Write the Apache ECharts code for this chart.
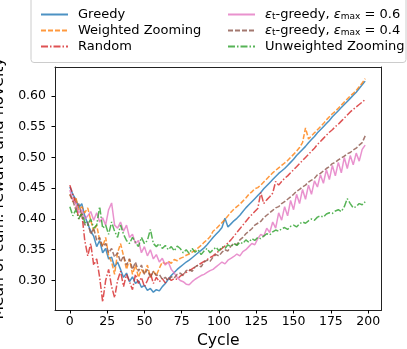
<!DOCTYPE html>
<html>
<head>
<meta charset="utf-8">
<script src="https://cdn.jsdelivr.net/npm/echarts@6/dist/echarts.min.js"></script>
<style>
html, body { margin: 0; padding: 0; background: #fff; }
#chart { width: 407px; height: 349px; }
</style>
</head>
<body>
<div id="chart"></div>
<script>
const cycles = [0, 2, 4, 6, 8, 10, 12, 14, 16, 18, 20, 22, 24, 26, 28, 30, 32, 34, 36, 38,
    40, 42, 44, 46, 48, 50, 52, 54, 56, 58, 60, 62, 64, 66, 68, 70, 72, 74, 76, 78,
    80, 82, 84, 86, 88, 90, 92, 94, 96, 98, 100, 102, 104, 106, 108, 110, 112, 114, 116, 118,
    120, 122, 124, 126, 128, 130, 132, 134, 136, 138, 140, 142, 144, 146, 148, 150, 152, 154, 156, 158,
    160, 162, 164, 166, 168, 170, 172, 174, 176, 178, 180, 182, 184, 186, 188, 190, 192, 194, 196, 198];

const greedy = [.452, .44, .432, .418, .425, .405, .392, .38, .372, .355, .365, .345, .352, .335, .338, .322, .33, .318, .305, .312,
    .298, .306, .295, .3, .289, .292, .284, .287, .281, .285, .283, .29, .295, .302, .308, .313, .318, .322, .326, .33,
    .333, .337, .341, .345, .349, .353, .358, .364, .37, .375, .38, .386, .401, .387, .392, .397, .401, .406, .412, .418,
    .423, .428, .433, .438, .443, .449, .454, .459, .464, .469, .474, .478, .482, .487, .492, .497, .503, .508, .513, .518,
    .524, .529, .534, .54, .545, .55, .555, .56, .566, .571, .576, .581, .586, .591, .596, .601, .606, .612, .618, .624];

const weightedZooming = [.44, .428, .435, .415, .42, .41, .418, .398, .38, .39, .365, .355, .37, .34, .33, .31, .345, .36, .34, .318,
    .335, .31, .325, .305, .318, .31, .325, .305, .315, .308, .32, .33, .327, .331, .328, .334, .332, .336, .338, .341,
    .343, .346, .349, .353, .357, .362, .366, .371, .38, .384, .389, .394, .399, .405, .411, .416, .42, .424, .429, .434,
    .44, .444, .449, .451, .455, .46, .465, .47, .475, .479, .483, .487, .491, .495, .5, .505, .51, .516, .524, .548,
    .53, .535, .54, .545, .55, .555, .561, .566, .571, .575, .58, .585, .59, .595, .6, .604, .609, .615, .621, .628];

const random = [.455, .44, .425, .4, .41, .365, .34, .36, .325, .335, .305, .265, .3, .318, .29, .272, .3, .315, .29, .31,
    .298, .285, .31, .295, .305, .29, .3, .312, .295, .305, .298, .303, .296, .305, .3, .303, .302, .307, .31, .313,
    .316, .319, .322, .325, .328, .331, .334, .337, .34, .344, .348, .352, .356, .361, .366, .372, .378, .384, .39, .396,
    .402, .407, .412, .417, .443, .425, .431, .436, .442, .461, .455, .461, .466, .47, .475, .48, .485, .49, .495, .5,
    .505, .51, .515, .521, .526, .531, .536, .541, .545, .55, .554, .559, .564, .569, .574, .578, .582, .586, .59, .594];

const epsGreedy06 = [.447, .43, .425, .41, .415, .4, .405, .412, .398, .41, .395, .402, .39, .415, .426, .39, .385, .395, .38, .39,
    .37, .375, .36, .365, .345, .355, .34, .35, .335, .342, .33, .336, .325, .33, .318, .312, .305, .3, .298, .294,
    .293, .298, .302, .305, .308, .31, .313, .316, .318, .322, .326, .33, .327, .333, .336, .339, .343, .34, .347, .35,
    .355, .36, .358, .368, .375, .372, .385, .378, .395, .385, .41, .398, .42, .405, .43, .415, .44, .425, .448, .432,
    .455, .44, .462, .452, .472, .458, .48, .464, .487, .47, .492, .475, .5, .482, .503, .488, .507, .494, .513, .52];

const epsGreedy04 = [.44, .43, .415, .425, .405, .39, .395, .375, .385, .365, .37, .355, .36, .345, .352, .338, .345, .33, .34, .325,
    .335, .318, .33, .315, .325, .31, .318, .305, .315, .308, .31, .302, .305, .3, .306, .304, .31, .312, .308, .316,
    .318, .315, .322, .325, .322, .33, .333, .331, .338, .342, .34, .346, .35, .348, .356, .36, .358, .366, .37, .376,
    .38, .384, .39, .393, .396, .402, .406, .41, .414, .418, .42, .425, .428, .432, .436, .44, .445, .448, .452, .455,
    .46, .463, .466, .472, .474, .478, .482, .485, .49, .492, .496, .499, .502, .506, .508, .512, .515, .52, .524, .535];

const unweightedZooming = [.42, .405, .415, .4, .41, .395, .39, .4, .385, .39, .42, .385, .39, .375, .395, .38, .37, .39, .375, .365,
    .36, .37, .362, .355, .37, .36, .365, .383, .36, .355, .36, .352, .357, .35, .355, .348, .356, .352, .345, .35,
    .344, .352, .346, .35, .342, .348, .352, .345, .35, .354, .348, .355, .352, .358, .355, .36, .357, .362, .36, .366,
    .362, .368, .365, .37, .368, .372, .376, .374, .379, .382, .38, .384, .386, .383, .388, .39, .387, .392, .395, .393,
    .397, .4, .398, .403, .405, .403, .408, .41, .409, .413, .415, .412, .42, .433, .425, .418, .42, .425, .423, .428];

const seriesNames = ['Greedy', 'Weighted Zooming', 'Random',
    'εt-greedy, εmax = 0.6', 'εt-greedy, εmax = 0.4', 'Unweighted Zooming'];
const seriesValues = [greedy, weightedZooming, random, epsGreedy06, epsGreedy04, unweightedZooming];
const xTicks = [0, 25, 50, 75, 100, 125, 150, 175, 200];
const yTicks = [0.30, 0.35, 0.40, 0.45, 0.50, 0.55, 0.60];

const colors = ['#1f77b4', '#ff7f0e', '#d62728', '#e377c2', '#8c564b', '#2ca02c'];
const dashed = [5, 2];
const dashDot = [7, 2, 1.5, 2];
const lineTypes = ['solid', dashed, dashDot, 'solid', dashed, dashDot];

const font = 'DejaVu Sans';
const xRange = {min: -9.95, max: 208.95};
const yRange = {min: 0.252, max: 0.647};
const spine = {show: true, onZero: false, lineStyle: {color: '#222', width: 1}};

const chart = echarts.init(document.getElementById('chart'), null, {renderer: 'canvas'});

const legendText = {
    fontFamily: font,
    fontSize: 13,
    color: '#000',
    padding: [0, 0, 0, 5],
    rich: {
        e: {fontFamily: font, fontSize: 13, fontStyle: 'italic', color: '#000'},
        s: {fontFamily: font, fontSize: 9, color: '#000', verticalAlign: 'bottom', lineHeight: 9}
    }
};

function legendLabel(name) {
    if (name.charAt(0) !== 'ε') return name;
    return '{e|ε}{s|t}-greedy, {e|ε}{s|max} = ' + name.slice(-3);
}

const legendBase = {
    orient: 'vertical',
    top: 3,
    itemWidth: 27,
    itemHeight: 16,
    itemGap: 3,
    itemStyle: {opacity: 0},
    formatter: legendLabel,
    textStyle: legendText
};

// top / right spines are just bare axes
const frameX = Object.assign({type: 'value', position: 'top', axisLine: spine,
    axisTick: {show: false}, axisLabel: {show: false}, splitLine: {show: false}}, xRange);
const frameY = Object.assign({type: 'value', position: 'right', axisLine: spine,
    axisTick: {show: false}, axisLabel: {show: false}, splitLine: {show: false}}, yRange);

const option = {
    animation: false,
    color: colors,
    graphic: [{
        type: 'rect',
        z: 0,
        shape: {x: 31, y: -6, width: 375, height: 68.5, r: 3},
        style: {fill: 'rgba(255,255,255,0.8)', stroke: '#cccccc', lineWidth: 1}
    }],
    legend: [
        Object.assign({data: seriesNames.slice(0, 3), left: 35}, legendBase),
        Object.assign({data: seriesNames.slice(3), left: 222}, legendBase)
    ],
    grid: {
        left: 55, right: 25.5, top: 67, bottom: 39,
        containLabel: false,
        outerBoundsMode: 'none'
    },
    xAxis: [Object.assign({
        type: 'value',
        name: 'Cycle',
        nameLocation: 'middle',
        nameGap: 19,
        nameTextStyle: {fontFamily: font, fontSize: 15.6, color: '#000'},
        axisLine: spine,
        splitLine: {show: false},
        axisTick: {show: true, length: 3.5, customValues: xTicks, lineStyle: {color: '#000'}},
        axisLabel: {customValues: xTicks, margin: 5, fontFamily: font, fontSize: 12.5, color: '#000'}
    }, xRange), frameX],
    yAxis: [Object.assign({
        type: 'value',
        name: 'Mean of cum. reward and novelty',
        nameLocation: 'middle',
        nameGap: 38,
        nameTextStyle: {fontFamily: font, fontSize: 15.6, color: '#000'},
        axisLine: spine,
        splitLine: {show: false},
        axisTick: {show: true, length: 3.5, customValues: yTicks, lineStyle: {color: '#000'}},
        axisLabel: {
            customValues: yTicks, margin: 9, fontFamily: font, fontSize: 12.5, color: '#000',
            formatter: v => v.toFixed(2)
        }
    }, yRange), frameY],
    series: seriesNames.map((name, i) => ({
        name: name,
        type: 'line',
        data: cycles.map((c, j) => [c, seriesValues[i][j]]),
        showSymbol: false,
        symbol: 'none',
        lineStyle: {width: 1.5, opacity: 0.8, type: lineTypes[i], color: colors[i]},
        itemStyle: {color: colors[i]}
    }))
};

chart.setOption(option);
window.addEventListener('resize', chart.resize.bind(chart));
</script>
</body>
</html>
